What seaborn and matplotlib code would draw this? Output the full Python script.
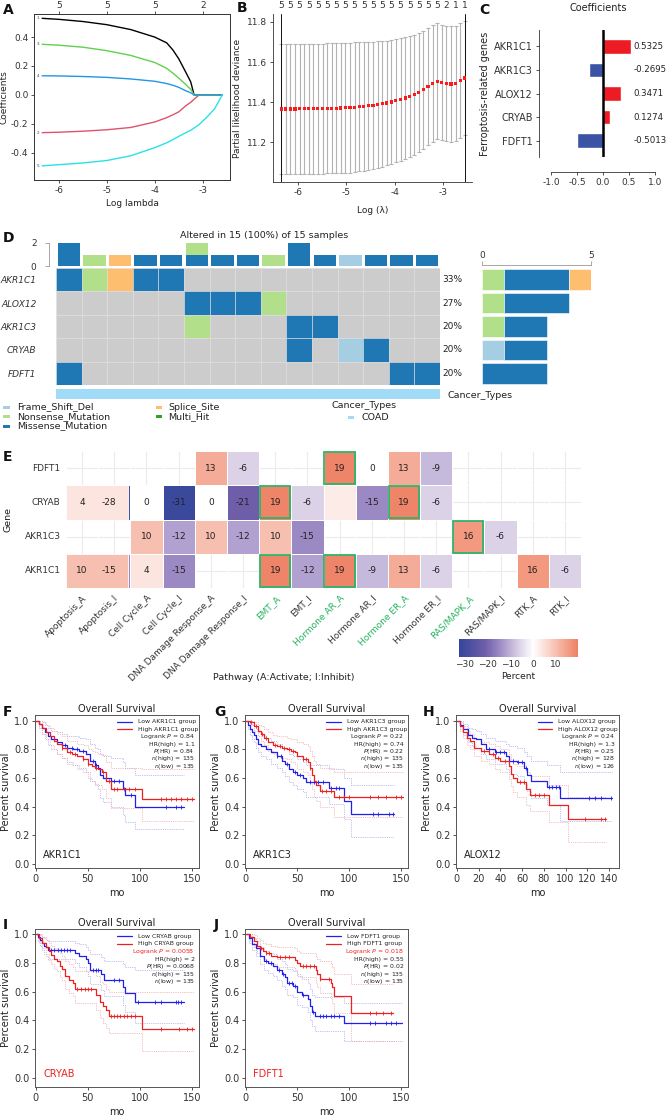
import numpy as np
import pandas as pd
import matplotlib
matplotlib.use('Agg')
import matplotlib.pyplot as plt
import seaborn as sns
from matplotlib.patches import Rectangle
from matplotlib.colors import LinearSegmentedColormap, Normalize

# ======================= DATA =======================
# ---- Panel A: LASSO coefficient paths
A_log_lambda = [-6.35, -6.0, -5.5, -5.0, -4.5, -4.0, -3.75, -3.62, -3.5, -3.35, -3.25, -3.18, -3.07, -2.9, -2.75, -2.59]
A_path_1 = [0.530, 0.523, 0.508, 0.486, 0.452, 0.400, 0.360, 0.310, 0.250, 0.155, 0.090, 0.0, 0.0, 0.0, 0.0, 0.0]
A_path_2 = [-0.262, -0.259, -0.252, -0.242, -0.226, -0.188, -0.158, -0.138, -0.118, -0.075, -0.052, -0.030, 0.0, 0.0, 0.0, 0.0]
A_path_3 = [0.350, 0.344, 0.330, 0.306, 0.273, 0.224, 0.183, 0.150, 0.116, 0.070, 0.038, 0.0, 0.0, 0.0, 0.0, 0.0]
A_path_4 = [0.132, 0.131, 0.127, 0.121, 0.110, 0.094, 0.078, 0.066, 0.052, 0.028, 0.014, 0.0, 0.0, 0.0, 0.0, 0.0]
A_path_5 = [-0.492, -0.484, -0.472, -0.455, -0.422, -0.366, -0.332, -0.310, -0.288, -0.262, -0.246, -0.230, -0.205, -0.150, -0.096, 0.0]
A_ids = ['1', '2', '3', '4', '5']
A_top_at = [-6, -5, -4, -3]
A_top_labels = ['5', '5', '5', '2']

# ---- Panel B: cross-validation curve
B_log_lambda = np.linspace(-6.35, -2.55, 41)
B_cvm = [11.365, 11.365, 11.365, 11.365, 11.366, 11.366, 11.366, 11.367, 11.367, 11.367,
         11.368, 11.368, 11.369, 11.370, 11.371, 11.372, 11.374, 11.376, 11.378, 11.381,
         11.384, 11.387, 11.391, 11.395, 11.400, 11.406, 11.413, 11.420, 11.428, 11.437,
         11.448, 11.461, 11.478, 11.493, 11.503, 11.497, 11.493, 11.490, 11.493, 11.508, 11.520]
B_se = [0.325, 0.325, 0.325, 0.325, 0.325, 0.325, 0.325, 0.325, 0.325, 0.325,
        0.325, 0.325, 0.325, 0.325, 0.325, 0.325, 0.324, 0.323, 0.322, 0.320,
        0.318, 0.316, 0.314, 0.312, 0.310, 0.308, 0.306, 0.304, 0.302, 0.300,
        0.298, 0.296, 0.294, 0.292, 0.290, 0.289, 0.289, 0.288, 0.288, 0.287, 0.286]
B_top_labels = ['5', '5', '5', '5', '5', '5', '5', '5', '5', '5', '5', '5', '5', '5', '5', '5',
                '5', '5', '2', '1', '1']

# ---- Panel C: coefficients
C_genes = ['AKR1C1', 'AKR1C3', 'ALOX12', 'CRYAB', 'FDFT1']
C_coef = [0.5325, -0.2695, 0.3471, 0.1274, -0.5013]

# ---- Panel D: oncoplot (F=Frame_Shift_Del, N=Nonsense, M=Missense, S=Splice_Site)
D_genes = ['AKR1C1', 'ALOX12', 'AKR1C3', 'CRYAB', 'FDFT1']
D_AKR1C1 = ['M', 'N', 'S', 'M', 'M', '', '', '', '', '', '', '', '', '', '']
D_ALOX12 = ['', '', '', '', '', 'M', 'M', 'M', 'N', '', '', '', '', '', '']
D_AKR1C3 = ['', '', '', '', '', 'N', '', '', '', 'M', 'M', '', '', '', '']
D_CRYAB = ['', '', '', '', '', '', '', '', '', 'M', '', 'F', 'M', '', '']
D_FDFT1 = ['M', '', '', '', '', '', '', '', '', '', '', '', '', 'M', 'M']
D_type_names = {'F': 'Frame_Shift_Del', 'N': 'Nonsense_Mutation', 'M': 'Missense_Mutation',
                'S': 'Splice_Site', 'H': 'Multi_Hit'}
D_cancer = 'COAD'

# ---- Panel E: pathway heatmap
E_genes = ['FDFT1', 'CRYAB', 'AKR1C3', 'AKR1C1']
E_paths = ['Apoptosis_A', 'Apoptosis_I', 'Cell Cycle_A', 'Cell Cycle_I',
           'DNA Damage Response_A', 'DNA Damage Response_I', 'EMT_A', 'EMT_I',
           'Hormone AR_A', 'Hormone AR_I', 'Hormone ER_A', 'Hormone ER_I',
           'RAS/MAPK_A', 'RAS/MAPK_I', 'RTK_A', 'RTK_I']
nan = np.nan
E_FDFT1 = [nan, nan, nan, nan, 13, -6, nan, nan, 19, 0, 13, -9, nan, nan, nan, nan]
E_CRYAB = [4, -28, 0, -31, 0, -21, 19, -6, 3, -15, 19, -6, nan, nan, nan, nan]
E_AKR1C3 = [nan, nan, 10, -12, 10, -12, 10, -15, nan, nan, nan, nan, 16, -6, nan, nan]
E_AKR1C1 = [10, -15, 4, -15, nan, nan, 19, -12, 19, -9, 13, -6, nan, nan, 16, -6]
E_highlight = [('FDFT1', 'Hormone AR_A'), ('CRYAB', 'EMT_A'), ('CRYAB', 'Hormone ER_A'),
               ('AKR1C3', 'RAS/MAPK_A'), ('AKR1C1', 'EMT_A'), ('AKR1C1', 'Hormone AR_A')]
E_hidden_text = [('CRYAB', 'Hormone AR_A')]
E_cbar_ticks = [-30, -20, -10, 0, 10]

# ---- Panels F-J: Kaplan-Meier (time, survival, CI low, CI high), censor times
F_low_t = [0, 3, 6, 9, 12, 15, 20, 25, 30, 36, 42, 48, 52, 57, 60, 62, 65, 72, 84, 86, 95, 143]
F_low_s = [1.0, 0.98, 0.95, 0.92, 0.89, 0.87, 0.85, 0.83, 0.81, 0.80, 0.79, 0.77, 0.72, 0.69, 0.67, 0.62, 0.60, 0.58, 0.53, 0.48, 0.40, 0.40]
F_low_lo = [1.0, 0.95, 0.91, 0.87, 0.83, 0.80, 0.77, 0.74, 0.71, 0.69, 0.67, 0.64, 0.58, 0.55, 0.52, 0.46, 0.43, 0.40, 0.34, 0.29, 0.24, 0.24]
F_low_hi = [1.0, 1.0, 0.99, 0.97, 0.95, 0.93, 0.92, 0.91, 0.89, 0.89, 0.88, 0.87, 0.84, 0.81, 0.80, 0.77, 0.75, 0.74, 0.71, 0.67, 0.62, 0.62]
F_low_c = [28, 35, 40, 45, 55, 58, 68, 75, 80, 92, 125, 135, 140]
F_high_t = [0, 3, 6, 10, 14, 18, 20, 25, 30, 35, 40, 45, 50, 54, 57, 60, 64, 68, 72, 102, 152]
F_high_s = [1.0, 0.98, 0.95, 0.92, 0.89, 0.86, 0.84, 0.81, 0.78, 0.77, 0.75, 0.73, 0.70, 0.68, 0.67, 0.66, 0.64, 0.58, 0.52, 0.45, 0.45]
F_high_lo = [1.0, 0.95, 0.91, 0.87, 0.83, 0.80, 0.77, 0.74, 0.70, 0.69, 0.66, 0.64, 0.60, 0.58, 0.56, 0.55, 0.52, 0.46, 0.39, 0.30, 0.30]
F_high_hi = [1.0, 1.0, 0.99, 0.97, 0.95, 0.93, 0.91, 0.89, 0.86, 0.86, 0.84, 0.83, 0.80, 0.79, 0.78, 0.77, 0.76, 0.71, 0.67, 0.66, 0.66]
F_high_c = [25, 33, 38, 45, 50, 58, 65, 70, 75, 78, 85, 90, 95, 120, 125, 130, 135, 140, 145, 150]

G_low_t = [0, 2, 4, 6, 8, 10, 12, 15, 20, 25, 30, 35, 38, 42, 46, 50, 55, 58, 80, 95, 102, 143]
G_low_s = [1.0, 0.97, 0.94, 0.92, 0.90, 0.87, 0.84, 0.82, 0.80, 0.78, 0.75, 0.72, 0.70, 0.66, 0.64, 0.62, 0.60, 0.57, 0.53, 0.44, 0.35, 0.35]
G_low_lo = [1.0, 0.94, 0.90, 0.87, 0.85, 0.81, 0.78, 0.75, 0.73, 0.70, 0.67, 0.64, 0.61, 0.57, 0.55, 0.52, 0.50, 0.47, 0.42, 0.31, 0.19, 0.19]
G_low_hi = [1.0, 1.0, 0.98, 0.97, 0.96, 0.94, 0.92, 0.90, 0.88, 0.86, 0.84, 0.81, 0.80, 0.77, 0.75, 0.73, 0.71, 0.69, 0.66, 0.60, 0.55, 0.55]
G_low_c = [30, 34, 40, 48, 52, 62, 66, 70, 75, 82, 87, 90, 123, 128, 138, 142]
G_high_t = [0, 4, 8, 12, 15, 18, 22, 26, 30, 35, 40, 44, 48, 50, 55, 60, 62, 64, 66, 68, 72, 85, 152]
G_high_s = [1.0, 0.99, 0.96, 0.93, 0.91, 0.88, 0.85, 0.83, 0.82, 0.81, 0.80, 0.79, 0.78, 0.75, 0.73, 0.71, 0.67, 0.62, 0.58, 0.55, 0.51, 0.47, 0.47]
G_high_lo = [1.0, 0.97, 0.93, 0.89, 0.86, 0.83, 0.79, 0.77, 0.75, 0.74, 0.73, 0.71, 0.70, 0.66, 0.64, 0.62, 0.57, 0.52, 0.47, 0.44, 0.40, 0.33, 0.33]
G_high_hi = [1.0, 1.0, 0.99, 0.97, 0.96, 0.94, 0.92, 0.90, 0.89, 0.89, 0.88, 0.87, 0.87, 0.85, 0.84, 0.82, 0.79, 0.75, 0.72, 0.70, 0.67, 0.64, 0.64]
G_high_c = [5, 10, 16, 20, 28, 33, 37, 42, 46, 55, 58, 62, 74, 78, 82, 90, 95, 100, 120, 128, 135, 145, 150]

H_low_t = [0, 3, 6, 10, 14, 18, 22, 27, 35, 45, 48, 55, 62, 65, 68, 83, 95, 143]
H_low_s = [1.0, 0.97, 0.94, 0.90, 0.88, 0.87, 0.84, 0.80, 0.78, 0.75, 0.72, 0.71, 0.67, 0.62, 0.58, 0.535, 0.46, 0.46]
H_low_lo = [1.0, 0.94, 0.90, 0.85, 0.82, 0.81, 0.77, 0.73, 0.70, 0.66, 0.63, 0.61, 0.56, 0.51, 0.46, 0.41, 0.30, 0.30]
H_low_hi = [1.0, 1.0, 0.98, 0.95, 0.94, 0.93, 0.91, 0.88, 0.86, 0.84, 0.82, 0.81, 0.78, 0.75, 0.72, 0.69, 0.64, 0.64]
H_low_c = [30, 36, 40, 43, 52, 56, 60, 64, 85, 88, 91, 94, 122, 127, 133, 142]
H_high_t = [0, 3, 6, 9, 12, 16, 22, 30, 35, 40, 48, 50, 52, 55, 64, 67, 85, 102, 137]
H_high_s = [1.0, 0.96, 0.92, 0.88, 0.855, 0.81, 0.79, 0.77, 0.74, 0.72, 0.68, 0.63, 0.60, 0.57, 0.52, 0.48, 0.41, 0.31, 0.31]
H_high_lo = [1.0, 0.93, 0.88, 0.83, 0.80, 0.75, 0.72, 0.70, 0.66, 0.64, 0.59, 0.54, 0.50, 0.47, 0.41, 0.37, 0.29, 0.15, 0.15]
H_high_hi = [1.0, 0.99, 0.96, 0.93, 0.91, 0.87, 0.85, 0.84, 0.82, 0.80, 0.77, 0.73, 0.70, 0.68, 0.64, 0.61, 0.55, 0.47, 0.47]
H_high_c = [25, 33, 38, 44, 58, 62, 72, 76, 80, 118, 133, 136]

I_low_t = [0, 2, 4, 6, 8, 10, 12, 38, 42, 48, 50, 52, 63, 66, 84, 86, 95, 143]
I_low_s = [1.0, 0.98, 0.96, 0.94, 0.92, 0.91, 0.89, 0.87, 0.85, 0.83, 0.80, 0.75, 0.72, 0.68, 0.635, 0.59, 0.53, 0.53]
I_low_lo = [1.0, 0.95, 0.92, 0.89, 0.86, 0.85, 0.83, 0.80, 0.77, 0.74, 0.71, 0.65, 0.61, 0.57, 0.51, 0.46, 0.38, 0.38]
I_low_hi = [1.0, 1.0, 0.99, 0.98, 0.97, 0.96, 0.95, 0.94, 0.93, 0.91, 0.89, 0.86, 0.84, 0.81, 0.79, 0.77, 0.75, 0.75]
I_low_c = [15, 18, 21, 24, 27, 30, 33, 55, 58, 60, 75, 80, 98, 115, 120, 135, 137, 140]
I_high_t = [0, 3, 6, 10, 13, 15, 18, 20, 23, 25, 28, 32, 36, 38, 58, 62, 65, 68, 70, 102, 152]
I_high_s = [1.0, 0.97, 0.94, 0.91, 0.88, 0.855, 0.83, 0.81, 0.78, 0.76, 0.71, 0.68, 0.66, 0.62, 0.58, 0.53, 0.50, 0.47, 0.43, 0.34, 0.34]
I_high_lo = [1.0, 0.94, 0.90, 0.86, 0.82, 0.79, 0.76, 0.74, 0.70, 0.68, 0.62, 0.59, 0.57, 0.52, 0.47, 0.42, 0.38, 0.35, 0.31, 0.19, 0.19]
I_high_hi = [1.0, 1.0, 0.98, 0.96, 0.94, 0.92, 0.90, 0.89, 0.87, 0.85, 0.81, 0.79, 0.77, 0.74, 0.71, 0.67, 0.65, 0.62, 0.60, 0.60, 0.60]
I_high_c = [40, 44, 47, 50, 53, 72, 75, 78, 81, 85, 88, 92, 95, 120, 138, 145, 150]

J_low_t = [0, 3, 6, 10, 14, 18, 22, 26, 30, 35, 38, 40, 46, 50, 54, 60, 62, 64, 67, 95, 151]
J_low_s = [1.0, 0.97, 0.93, 0.90, 0.85, 0.81, 0.80, 0.78, 0.75, 0.72, 0.70, 0.66, 0.64, 0.60, 0.58, 0.55, 0.50, 0.46, 0.43, 0.38, 0.38]
J_low_lo = [1.0, 0.94, 0.89, 0.85, 0.79, 0.75, 0.73, 0.71, 0.68, 0.64, 0.62, 0.58, 0.56, 0.51, 0.49, 0.46, 0.40, 0.36, 0.33, 0.26, 0.26]
J_low_hi = [1.0, 1.0, 0.97, 0.95, 0.91, 0.88, 0.87, 0.86, 0.83, 0.81, 0.79, 0.76, 0.74, 0.71, 0.69, 0.66, 0.62, 0.58, 0.56, 0.52, 0.52]
J_low_c = [20, 25, 32, 36, 42, 45, 48, 55, 65, 72, 75, 78, 82, 85, 90, 120, 125, 135, 140, 145]
J_high_t = [0, 4, 8, 11, 14, 17, 20, 25, 30, 48, 50, 52, 68, 69, 72, 82, 83, 85, 102, 142]
J_high_s = [1.0, 0.98, 0.95, 0.92, 0.90, 0.88, 0.87, 0.85, 0.84, 0.82, 0.80, 0.78, 0.75, 0.725, 0.69, 0.66, 0.63, 0.57, 0.45, 0.45]
J_high_lo = [1.0, 0.95, 0.91, 0.87, 0.85, 0.83, 0.81, 0.79, 0.77, 0.75, 0.72, 0.70, 0.66, 0.63, 0.59, 0.55, 0.52, 0.45, 0.26, 0.26]
J_high_hi = [1.0, 1.0, 0.99, 0.97, 0.96, 0.94, 0.93, 0.92, 0.91, 0.90, 0.88, 0.87, 0.85, 0.83, 0.81, 0.79, 0.77, 0.72, 0.65, 0.65]
J_high_c = [15, 20, 23, 33, 38, 42, 55, 58, 62, 66, 72, 80, 120, 126, 132, 140]

KM_stats = {
    'AKR1C1': ['0.84', '1.1', '0.84', '135', '135'],
    'AKR1C3': ['0.22', '0.74', '0.22', '135', '135'],
    'ALOX12': ['0.24', '1.3', '0.25', '128', '126'],
    'CRYAB': ['0.0058', '2', '0.0068', '135', '135'],
    'FDFT1': ['0.018', '0.55', '0.02', '135', '135'],
}

# ======================= STYLE =======================
sns.set_theme(style='ticks')
plt.rcParams['font.family'] = ['DejaVu Sans']
plt.rcParams['axes.unicode_minus'] = False
plt.rcParams['font.size'] = 6.5
plt.rcParams['xtick.labelsize'] = 6.5
plt.rcParams['ytick.labelsize'] = 6.5
plt.rcParams['axes.labelsize'] = 6.5
plt.rcParams['axes.linewidth'] = 0.6
plt.rcParams['xtick.major.width'] = 0.6
plt.rcParams['ytick.major.width'] = 0.6
plt.rcParams['xtick.major.size'] = 2.5
plt.rcParams['ytick.major.size'] = 2.5
plt.rcParams['xtick.major.pad'] = 1.5
plt.rcParams['ytick.major.pad'] = 1.5
plt.rcParams['text.color'] = '#222222'
plt.rcParams['axes.labelcolor'] = '#222222'
plt.rcParams['xtick.color'] = '#333333'
plt.rcParams['ytick.color'] = '#333333'
plt.rcParams['axes.edgecolor'] = '#333333'

W, H = 668, 1118
fig = plt.figure(figsize=(W / 100, H / 100), dpi=100)


def ax_px(x0, y0, x1, y1):
    return fig.add_axes([x0 / W, 1 - y1 / H, (x1 - x0) / W, (y1 - y0) / H])


# ======================= PANEL A =======================
axA = ax_px(34, 14, 230, 180)
A_colors = ['#000000', '#DF536B', '#61D04F', '#2297E6', '#28E2E5']
for vals, col, lab in zip([A_path_1, A_path_2, A_path_3, A_path_4, A_path_5], A_colors, A_ids):
    sns.lineplot(x=A_log_lambda, y=vals, color=col, lw=1.0, ax=axA, sort=False, estimator=None)
    axA.text(-6.44, vals[0], lab, fontsize=3, ha='center', va='center', color='#444444')
axA.set_xlim(-6.52, -2.43)
axA.set_ylim(-0.59, 0.56)
axA.set_xticks([-6, -5, -4, -3])
axA.set_yticks([-0.4, -0.2, 0.0, 0.2, 0.4])
axA.set_yticklabels(['%.1f' % v for v in [-0.4, -0.2, 0.0, 0.2, 0.4]])
axA.set_xlabel('Log lambda', labelpad=3)
axA.set_ylabel('Coefficients', labelpad=2)
axA2 = axA.twiny()
axA2.set_xlim(axA.get_xlim())
axA2.set_xticks(A_top_at)
axA2.set_xticklabels(A_top_labels)
axA2.tick_params(length=2, pad=1)

# ======================= PANEL B =======================
axB = ax_px(273, 14, 472, 182)
axB.errorbar(B_log_lambda, B_cvm, yerr=B_se, fmt='none', ecolor='#b3b3b3', elinewidth=0.8,
             capsize=1.3, capthick=0.8)
sns.scatterplot(x=B_log_lambda, y=B_cvm, color='#ff1a1a', marker='s', s=5, edgecolor='none',
                ax=axB, zorder=5)
axB.axvline(B_log_lambda[0], color='#111111', lw=0.7)
axB.axvline(B_log_lambda[-1], color='#111111', lw=0.7)
axB.set_xlim(-6.52, -2.40)
axB.set_ylim(11.0, 11.84)
axB.set_xticks([-6, -5, -4, -3])
axB.set_yticks([11.2, 11.4, 11.6, 11.8])
axB.set_yticklabels(['11.2', '11.4', '11.6', '11.8'])
axB.set_xlabel('Log (\u03bb)', labelpad=7)
axB.set_ylabel('Partial likelihood deviance', labelpad=4)
sns.despine(ax=axB)
axB2 = axB.twiny()
axB2.set_xlim(axB.get_xlim())
axB2.set_xticks(B_log_lambda[::2])
axB2.set_xticklabels(B_top_labels)
axB2.tick_params(length=0, pad=3)
for s in axB2.spines.values():
    s.set_visible(False)

# ======================= PANEL C =======================
axC = ax_px(539, 30, 668, 157)
C_pal = {g: ('#ED1C24' if v > 0 else '#3A53A4') for g, v in zip(C_genes, C_coef)}
sns.barplot(x=C_coef, y=C_genes, hue=C_genes, palette=C_pal, orient='h', width=0.6,
            legend=False, ax=axC, saturation=1)
axC.axvline(0, color='black', lw=1.8)
axC.set_xlim(-1.231, 1.25)
axC.set_ylim(4.7, -0.7)
for i, v in enumerate(C_coef):
    axC.text(0.58, i, '%.4f' % v, ha='left', va='center', fontsize=6.2)
axC.set_xticks([-1.0, -0.5, 0.0, 0.5, 1.0])
axC.set_xticklabels(['-1.0', '-0.5', '0.0', '0.5', '1.0'], fontsize=6.5)
axC.tick_params(axis='y', labelsize=7, length=2.5, pad=2)
axC.spines['bottom'].set_position(('outward', 11))
axC.spines['bottom'].set_bounds(-1, 1)
axC.spines['top'].set_visible(False)
axC.spines['right'].set_visible(False)
axC.set_xlabel('')
axC.set_ylabel('Ferroptosis-related genes', fontsize=7, labelpad=3)

# ======================= PANEL D =======================
D_rows = [D_AKR1C1, D_ALOX12, D_AKR1C3, D_CRYAB, D_FDFT1]
D_col = {'Frame_Shift_Del': '#a6cee3', 'Nonsense_Mutation': '#b2df8a',
         'Missense_Mutation': '#1f78b4', 'Splice_Site': '#fdbf6f', 'Multi_Hit': '#33a02c'}
n_s = len(D_rows[0])
n_g = len(D_genes)

# top bar
axDt = ax_px(56, 243, 440, 266)
for j in range(n_s):
    b = 0
    for r in range(n_g):
        c = D_rows[r][j]
        if c:
            axDt.bar(j + 0.5, 1, bottom=b, width=0.87, color=D_col[D_type_names[c]], lw=0)
            b += 1
axDt.set_xlim(0, n_s)
axDt.set_ylim(0, 2)
axDt.set_xticks([])
axDt.set_yticks([0, 2])
axDt.tick_params(axis='y', length=3, color='#999999', pad=6)
for k in ['top', 'right', 'bottom']:
    axDt.spines[k].set_visible(False)
axDt.spines['left'].set_position(('outward', 5))
axDt.spines['left'].set_color('#999999')

# grid
axDm = ax_px(56, 268, 440, 385)
for r in range(n_g):
    for j in range(n_s):
        c = D_rows[r][j]
        fc = D_col[D_type_names[c]] if c else '#cccccc'
        axDm.add_patch(Rectangle((j, r), 1, 1, facecolor=fc, edgecolor='#dedede', lw=0.4))
axDm.set_xlim(0, n_s)
axDm.set_ylim(n_g, 0)
axDm.set_xticks([])
axDm.set_yticks(np.arange(n_g) + 0.5)
axDm.set_yticklabels(D_genes, fontstyle='italic', fontsize=6.5)
axDm.tick_params(axis='y', length=0, pad=14)
for s in axDm.spines.values():
    s.set_visible(False)
for r in range(n_g):
    cnt = sum(1 for c in D_rows[r] if c)
    axDm.text(n_s + 0.1, r + 0.5, '%d%%' % round(100 * cnt / n_s), va='center', ha='left',
              fontsize=6.5)

# cancer type bar
axDc = ax_px(56, 389, 440, 399)
axDc.add_patch(Rectangle((0, 0), n_s, 1, facecolor='#a2dbf7', lw=0))
axDc.set_xlim(0, n_s)
axDc.set_ylim(0, 1)
axDc.axis('off')

# right bar
axDr = ax_px(482, 268, 591, 385)
order = ['F', 'N', 'M', 'S']
for r in range(n_g):
    left = 0
    for code in order:
        cnt = sum(1 for c in D_rows[r] if c == code)
        if cnt:
            axDr.barh(r + 0.5, cnt, left=left, height=0.88, color=D_col[D_type_names[code]],
                      edgecolor='white', lw=0.4)
            left += cnt
axDr.set_xlim(0, 5)
axDr.set_ylim(n_g, 0)
axDr.set_yticks([])
axDr.xaxis.tick_top()
axDr.set_xticks([0, 5])
axDr.tick_params(axis='x', length=3, color='#999999', pad=1)
for k in ['bottom', 'right', 'left']:
    axDr.spines[k].set_visible(False)
axDr.spines['top'].set_color('#999999')
axDr.spines['top'].set_position(('outward', 2))

n_alt = sum(1 for j in range(n_s) if any(D_rows[r][j] for r in range(n_g)))

# ======================= PANEL E =======================
E_mat = pd.DataFrame([E_FDFT1, E_CRYAB, E_AKR1C3, E_AKR1C1], index=E_genes, columns=E_paths)
E_vmin, E_vmax = -32.6, 19.7
E_nodes = [(-32.6, '#34469b'), (-21, '#6f5ea9'), (-15, '#9b89c4'), (-6, '#dcd2e8'),
           (0, '#ffffff'), (19.7, '#ef8163')]
E_cmap = LinearSegmentedColormap.from_list(
    'e', [((v - E_vmin) / (E_vmax - E_vmin), c) for v, c in E_nodes])
E_norm = Normalize(E_vmin, E_vmax)

axE = ax_px(66, 451, 581, 588)
caxE = ax_px(459, 639, 578, 657)
for j in range(len(E_paths)):
    axE.axvline(j + 0.5, color='#ebebeb', lw=0.8, zorder=0)
for i in range(len(E_genes)):
    axE.axhline(i + 0.5, color='#ebebeb', lw=0.8, zorder=0)
sns.heatmap(E_mat, cmap=E_cmap, vmin=E_vmin, vmax=E_vmax, ax=axE, cbar_ax=caxE,
            linewidths=0.6, linecolor='white', annot=False,
            cbar_kws={'orientation': 'horizontal', 'ticks': E_cbar_ticks})
axE.set_facecolor('none')
axE.patch.set_alpha(0)
# Apoptosis_A tiles drawn wide (overlapping Apoptosis_I tile as in the source figure)
for i, g in enumerate(E_genes):
    va = E_mat.loc[g, 'Apoptosis_A']
    if not np.isnan(va):
        axE.add_patch(Rectangle((0, i), 1.93, 1, facecolor=E_cmap(E_norm(va)),
                                edgecolor='white', lw=0.6, zorder=2))
for i, g in enumerate(E_genes):
    for j, p in enumerate(E_paths):
        v = E_mat.loc[g, p]
        if np.isnan(v) or (g, p) in E_hidden_text:
            continue
        xx = 1.34 if p == 'Apoptosis_I' else j + 0.5
        axE.text(xx, i + 0.5, '%d' % v, ha='center', va='center', fontsize=6.5,
                 color='#222222', zorder=5)
for g, p in E_highlight:
    i = E_genes.index(g)
    j = E_paths.index(p)
    axE.add_patch(Rectangle((j + 0.03, i + 0.03), 0.94, 0.94, fill=False,
                            edgecolor='#2db56b', lw=1.3, zorder=4))
axE.set_xlim(0, len(E_paths))
axE.set_ylim(len(E_genes), 0)
hl_paths = set(p for _, p in E_highlight)
axE.set_xticks(np.arange(len(E_paths)) + 0.5)
axE.set_xticklabels(E_paths, rotation=45, ha='right', va='top', rotation_mode='anchor',
                    fontsize=6.5)
for lbl in axE.get_xticklabels():
    if lbl.get_text() in hl_paths:
        lbl.set_color('#22b35e')
axE.set_yticks(np.arange(len(E_genes)) + 0.5)
axE.set_yticklabels(E_genes, rotation=0, fontsize=6.5)
axE.tick_params(length=0, pad=4)
axE.set_xlabel('')
axE.set_ylabel('')
cb = axE.collections[0].colorbar
cb.outline.set_visible(False)
cb.set_ticks(E_cbar_ticks)
cb.set_ticklabels(['\u221230', '\u221220', '\u221210', '0', '10'])
caxE.tick_params(length=3, color='white', width=0.8, labelsize=6.5, pad=2, direction='in')
caxE.set_xlabel('Percent', fontsize=6.5, labelpad=2)

# ======================= PANELS F-J =======================
KM_blue, KM_red = '#2020ee', '#ee2020'
KM_blue_ci, KM_red_ci = '#a8a8f0', '#f2a8a8'


def step_val(t, s, x):
    idx = np.searchsorted(t, x, side='right') - 1
    return np.asarray(s)[idx]


def km(box, xlim, ylim, xticks, gene, low, high, sig):
    ax = ax_px(*box)
    for (t, s, lo, hi, cens), col, cic in [(low, KM_blue, KM_blue_ci), (high, KM_red, KM_red_ci)]:
        ax.step(t, lo, where='post', color=cic, lw=0.6, ls=(0, (1, 1.2)))
        ax.step(t, hi, where='post', color=cic, lw=0.6, ls=(0, (1, 1.2)))
    for (t, s, lo, hi, cens), col in [(low, KM_blue), (high, KM_red)]:
        sns.lineplot(x=t, y=s, drawstyle='steps-post', color=col, lw=0.9, ax=ax,
                     sort=False, estimator=None)
        ax.plot(cens, step_val(t, s, cens), ls='none', marker='|', ms=3.2, mew=0.6, color=col)
    ax.set_xlim(*xlim)
    ax.set_ylim(*ylim)
    ax.set_xticks(xticks)
    ax.set_yticks([0, 0.2, 0.4, 0.6, 0.8, 1.0])
    ax.set_yticklabels(['0.0', '0.2', '0.4', '0.6', '0.8', '1.0'])
    ax.tick_params(labelsize=7, length=2.5)
    for sp in ax.spines.values():
        sp.set_color('#555555')
        sp.set_linewidth(0.7)
    ax.set_title('Overall Survival', fontsize=7, pad=2.5)
    ax.set_xlabel('mo', fontsize=7, labelpad=3)
    ax.set_ylabel('Percent survival', fontsize=7, labelpad=2)
    tr = ax.transAxes
    ax.plot([0.50, 0.59], [0.955, 0.955], transform=tr, color=KM_blue, lw=0.9)
    ax.plot([0.50, 0.59], [0.908, 0.908], transform=tr, color=KM_red, lw=0.9)
    ax.text(0.625, 0.955, 'Low %s group' % gene, transform=tr, fontsize=4.4, va='center')
    ax.text(0.625, 0.908, 'High %s group' % gene, transform=tr, fontsize=4.4, va='center')
    p, hr, phr, nh, nl = KM_stats[gene]
    lines = [r'Logrank $\it{P}$ = ' + p, 'HR(high) = ' + hr, r'$\it{P}$(HR) = ' + phr,
             r'$\it{n}$(high) = ' + nh, r'$\it{n}$(low) = ' + nl]
    for k, ln in enumerate(lines):
        ax.text(0.975, 0.858 - 0.048 * k, ln, transform=tr, fontsize=4.4, ha='right',
                va='center', color=('#ee2020' if (k == 0 and sig) else '#222222'))
    ax.text(0.05, 0.065, gene, transform=tr, fontsize=7,
            color=('#ee2020' if sig else '#222222'))
    return ax


yl1 = (-0.03, 1.04)
yl2 = (-0.062, 1.035)
km((35, 715, 199, 868), (-0.7, 157), yl1, [0, 50, 100, 150], 'AKR1C1',
   (F_low_t, F_low_s, F_low_lo, F_low_hi, F_low_c),
   (F_high_t, F_high_s, F_high_lo, F_high_hi, F_high_c), False)
km((245, 715, 408, 868), (-0.5, 156.5), yl1, [0, 50, 100, 150], 'AKR1C3',
   (G_low_t, G_low_s, G_low_lo, G_low_hi, G_low_c),
   (G_high_t, G_high_s, G_high_lo, G_high_hi, G_high_c), False)
km((456, 715, 619, 868), (-0.7, 149.2), yl1, [0, 20, 40, 60, 80, 100, 120, 140], 'ALOX12',
   (H_low_t, H_low_s, H_low_lo, H_low_hi, H_low_c),
   (H_high_t, H_high_s, H_high_lo, H_high_hi, H_high_c), False)
km((35, 929, 199, 1087), (-0.7, 157), yl2, [0, 50, 100, 150], 'CRYAB',
   (I_low_t, I_low_s, I_low_lo, I_low_hi, I_low_c),
   (I_high_t, I_high_s, I_high_lo, I_high_hi, I_high_c), True)
km((245, 929, 408, 1087), (-0.5, 156.5), yl2, [0, 50, 100, 150], 'FDFT1',
   (J_low_t, J_low_s, J_low_lo, J_low_hi, J_low_c),
   (J_high_t, J_high_s, J_high_lo, J_high_hi, J_high_c), True)

# ======================= OVERLAY TEXT =======================
ov = fig.add_axes([0, 0, 1, 1])
ov.set_xlim(0, W)
ov.set_ylim(H, 0)
ov.axis('off')
ov.patch.set_alpha(0)
ov.set_zorder(20)

for lab, x, y in [('A', 3, 10), ('B', 237, 8), ('C', 479, 10), ('D', 3, 238), ('E', 3, 457),
                  ('F', 3, 712), ('G', 214, 712), ('H', 423, 712), ('I', 3, 925), ('J', 214, 925)]:
    ov.text(x, y, lab, fontsize=10, fontweight='bold', ha='left', va='center', color='#111111')

ov.text(598, 8, 'Coefficients', fontsize=7, ha='center', va='center')
ov.text(264, 236, 'Altered in %d (%d%%) of %d samples' % (n_alt, round(100 * n_alt / n_s), n_s),
        fontsize=6.8, ha='center', va='center')
ov.text(447, 395, 'Cancer_Types', fontsize=6.8, ha='left', va='center')

# D legend
leg1 = [('Frame_Shift_Del', 407), ('Nonsense_Mutation', 416.5), ('Missense_Mutation', 426)]
for name, y in leg1:
    ov.add_patch(Rectangle((3, y - 1.5), 7, 3, facecolor=D_col[name], lw=0))
    ov.text(17, y, name, fontsize=6.8, va='center')
leg2 = [('Splice_Site', 407), ('Multi_Hit', 416.5)]
for name, y in leg2:
    ov.add_patch(Rectangle((156, y - 1.5), 6, 3, facecolor=D_col[name], lw=0))
    ov.text(168, y, name, fontsize=6.8, va='center')
ov.text(332, 406, 'Cancer_Types', fontsize=6.8, va='center')
ov.add_patch(Rectangle((348, 415.5), 6, 3, facecolor='#a2dbf7', lw=0))
ov.text(362, 417, D_cancer, fontsize=6.8, va='center')

# E axis titles
ov.text(284, 677, 'Pathway (A:Activate; I:Inhibit)', fontsize=6.8, ha='center', va='center')
ov.text(8, 520, 'Gene', fontsize=6.8, ha='center', va='center', rotation=90)

fig.savefig('out.png', dpi=100)
